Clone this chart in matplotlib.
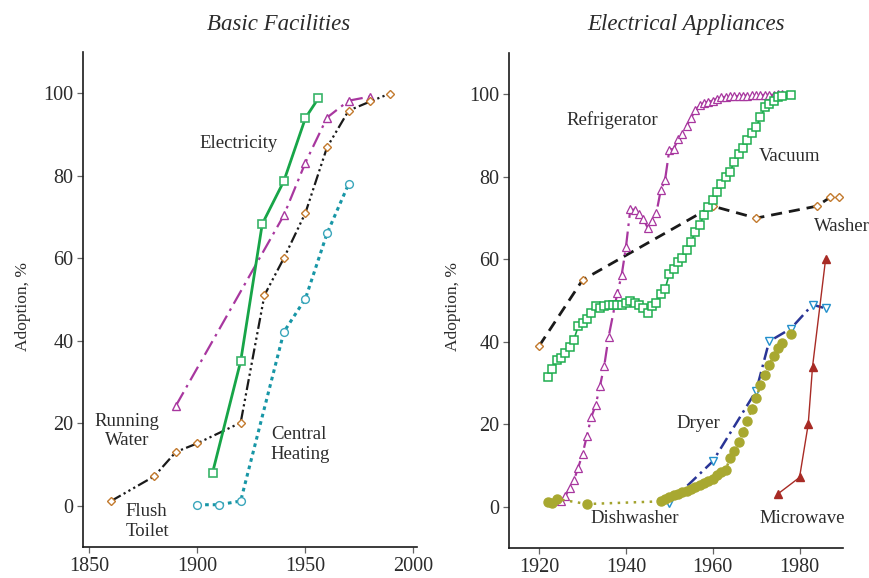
import matplotlib
matplotlib.use("Agg")
import matplotlib.pyplot as plt

plt.rcParams["font.family"] = ["Liberation Serif", "DejaVu Serif"]
TXT = "#2b2b2b"

# ---- Basic facilities (left panel) ----
elec_yr = [1907, 1920, 1930, 1940, 1950, 1956]
elec_pct = [8, 35, 68.3, 78.7, 94, 98.8]

water_yr = [1890, 1940, 1950, 1960, 1970, 1980]
water_pct = [24.2, 70.4, 83.2, 94.1, 98.2, 99.2]

toilet_yr = [1860, 1880, 1890, 1900, 1920, 1931, 1940, 1950, 1960, 1970, 1980, 1989]
toilet_pct = [1.1, 7.1, 13, 15.1, 20.1, 51, 60, 71, 86.9, 95.8, 98, 99.9]

heat_yr = [1900, 1910, 1920, 1940, 1950, 1960, 1970]
heat_pct = [0.2, 0.2, 1.1, 42.1, 50.2, 66, 78]

# ---- Electrical appliances (right panel) ----
washer_yr = [1920, 1930, 1960, 1970, 1984, 1987, 1989]
washer_pct = [39, 55, 72.9, 70, 72.9, 75, 75]

vac_yr = list(range(1922, 1977)) + [1978]
vac_pct = [31.5, 33.4, 35.5, 36.0, 37.2, 38.8, 40.5, 43.8, 44.5, 45.5,
           47.0, 48.6, 48.3, 48.7, 48.9, 48.9, 48.9, 48.9, 49.4, 49.8,
           49.5, 48.9, 48.3, 46.9, 48.7, 49.4, 51.7, 52.7, 56.5, 57.6,
           59.3, 60.4, 62.2, 64.3, 66.6, 68.4, 70.8, 72.7, 74.3, 76.3,
           78.2, 79.9, 81.3, 83.7, 85.6, 87.0, 89.0, 90.7, 92.1, 94.4,
           96.9, 97.6, 98.5, 99.3, 99.6, 99.9]

fridge_yr = [1925, 1926, 1927, 1928, 1929, 1930, 1931, 1932, 1933, 1934,
             1935, 1936, 1938, 1939, 1940, 1941, 1942, 1943, 1944, 1945,
             1946, 1947, 1948, 1949, 1950, 1951, 1952, 1953, 1954, 1955,
             1956, 1957, 1958, 1959, 1960, 1961, 1962, 1963, 1964, 1965,
             1966, 1967, 1968, 1969, 1970, 1971, 1972, 1973, 1974, 1975, 1976]
fridge_pct = [1.4, 2.5, 4.5, 6.4, 9.5, 12.8, 17.2, 21.7, 24.6, 29.2,
              34.2, 41.2, 51.8, 56.1, 63, 72.1, 72, 71.1, 69.7, 67.7,
              69.3, 71.2, 76.7, 79.2, 86.6, 86.8, 89.1, 90.5, 92.4, 94.3,
              96.2, 97.4, 98, 98.2, 98.5, 99, 99.3, 99.4, 99.5, 99.6,
              99.6, 99.7, 99.7, 99.8, 99.8, 99.8, 99.9, 99.9, 99.9, 100, 100]

dryer_yr = [1950, 1960, 1970, 1973, 1978, 1983, 1986]
dryer_pct = [0.9, 11, 28.1, 40.1, 43.2, 49, 48.1]

dish_yr = [1922, 1923, 1924, 1931] + list(range(1948, 1977)) + [1978]
dish_pct = [1.1, 0.9, 1.9, 0.65,
            1.3, 1.9, 2.3, 2.8, 3.2, 3.5, 3.8, 4.3, 4.8, 5.3,
            5.7, 6.3, 6.8, 7.7, 8.5, 9.0, 11.8, 13.6, 15.7, 18.1,
            20.8, 23.7, 26.4, 29.5, 31.9, 34.3, 36.6, 38.4, 39.6, 41.8]

micro_yr = [1975, 1980, 1982, 1983, 1986]
micro_pct = [3.1, 7.1, 20, 34, 60]

fig = plt.figure(figsize=(8.69, 5.78), dpi=100)
ax1 = fig.add_axes([0.096, 0.054, 0.384, 0.856])
ax2 = fig.add_axes([0.586, 0.052, 0.384, 0.856])

GREEN = "#17a548"
MAGENTA = "#a8379f"
BROWN = "#c27a2e"
TEAL = "#1796a6"

ax1.plot(elec_yr, elec_pct, "-", color=GREEN, lw=2.0, marker="s", ms=5.8,
         mfc="white", mec="#38b468", mew=1.2, zorder=4)
ax1.plot(water_yr, water_pct, color=MAGENTA, lw=1.6, dashes=(7, 2.5, 1.2, 2.5),
         marker="^", ms=6, mfc="white", mec=MAGENTA, mew=1.0, zorder=3)
ax1.plot(toilet_yr, toilet_pct, color="#1a1a1a", lw=1.6,
         dashes=(5, 1.5, 1, 1.5, 1, 1.5, 1, 1.5),
         marker="D", ms=4.3, mfc="white", mec=BROWN, mew=1.0, zorder=3)
ax1.plot(heat_yr, heat_pct, color=TEAL, lw=2.2, dashes=(1.2, 1.3),
         marker="o", ms=5.6, mfc="white", mec="#3aa6bb", mew=1.0, zorder=3)

ax1.set_xlim(1847.2, 2001.7)
ax1.set_xticks([1850, 1900, 1950, 2000])

lab = dict(fontsize=13.5, color=TXT)
ax1.text(1900.9, 87.8, "Electricity", ha="left", va="center", **lab)
ax1.text(1867.5, 18.1, "Running\nWater", ha="center", va="center",
         multialignment="center", **lab)
ax1.text(1866.6, -3.9, "Flush\nToilet", ha="left", va="center",
         multialignment="left", **lab)
ax1.text(1934, 14.8, "Central\nHeating", ha="left", va="center",
         multialignment="left", **lab)

# right panel
ax2.plot(washer_yr, washer_pct, color="#1a1a1a", lw=2.0, dashes=(4, 2.5),
         marker="D", ms=4.3, mfc="white", mec=BROWN, mew=1.0, zorder=3)
ax2.plot(fridge_yr, fridge_pct, color=MAGENTA, lw=1.6, dashes=(7, 2.5, 1.2, 2.5),
         marker="^", ms=5.6, mfc="white", mec=MAGENTA, mew=0.9, zorder=3)
ax2.plot(vac_yr, vac_pct, "-", color=GREEN, lw=1.2,
         marker="s", ms=5.4, mfc="white", mec="#1fae4f", mew=1.1, zorder=4)
ax2.plot(dryer_yr, dryer_pct, color="#2a3596", lw=1.8, dashes=(5, 2, 1, 2),
         marker="v", ms=6, mfc="white", mec="#2390cc", mew=1.0, zorder=3)
ax2.plot(dish_yr, dish_pct, color="#a3a32e", lw=1.8, dashes=(1, 2.2),
         marker="o", ms=6.5, mfc="#a8a830", mec="#a8a830", zorder=3)
ax2.plot(micro_yr, micro_pct, "-", color="#a82b25", lw=1.0,
         marker="^", ms=5.6, mfc="#a82b25", mec="#a82b25", zorder=3)

ax2.set_xlim(1913.1, 1990)
ax2.set_xticks([1920, 1940, 1960, 1980])

ax2.text(1926.2, 93.7, "Refrigerator", ha="left", va="center", **lab)
ax2.text(1970.5, 85.0, "Vacuum", ha="left", va="center", **lab)
ax2.text(1983.4, 67.9, "Washer", ha="left", va="center", clip_on=False, **lab)
ax2.text(1951.6, 20.3, "Dryer", ha="left", va="center", **lab)
ax2.text(1931.75, -2.8, "Dishwasher", ha="left", va="center", **lab)
ax2.text(1970.8, -2.8, "Microwave", ha="left", va="center", **lab)

for ax in (ax1, ax2):
    ax.set_ylim(-10, 110)
    ax.set_yticks([0, 20, 40, 60, 80, 100])
    for s in ("top", "right"):
        ax.spines[s].set_visible(False)
    for s in ("left", "bottom"):
        ax.spines[s].set_linewidth(1.2)
        ax.spines[s].set_color("#1a1a1a")
    ax.tick_params(direction="out", length=4, width=0.9, color="#666666",
                   labelsize=14.5, labelcolor=TXT, pad=3)

fig.text(0.321, 0.957, "Basic Facilities", ha="center", va="center",
         fontsize=16.5, style="italic", color=TXT)
fig.text(0.789, 0.957, "Electrical Appliances", ha="center", va="center",
         fontsize=16.5, style="italic", color=TXT)
fig.text(0.026, 0.47, "Adoption, %", rotation=90, ha="center", va="center",
         fontsize=12.5, color=TXT)
fig.text(0.521, 0.47, "Adoption, %", rotation=90, ha="center", va="center",
         fontsize=12.5, color=TXT)

fig.savefig("out.png", dpi=100)
